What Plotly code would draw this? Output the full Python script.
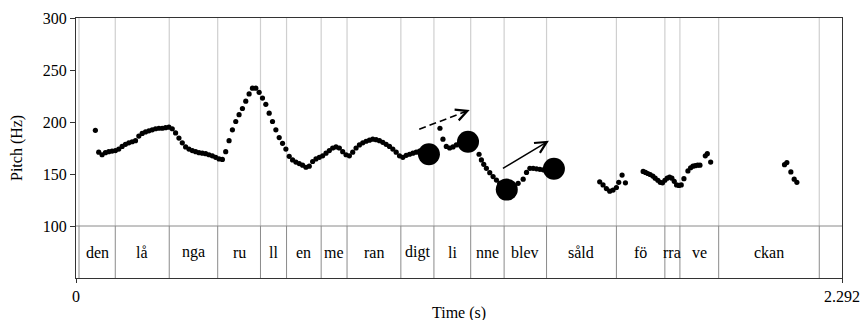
import plotly.graph_objects as go

# ---------------- data ----------------
# pitch track (time in s, F0 in Hz)
pitch_t = [0.058,
           0.068, 0.078, 0.088, 0.098, 0.108, 0.118, 0.128, 0.138, 0.148, 0.158,
           0.168, 0.178, 0.188, 0.198, 0.208, 0.218, 0.228, 0.238, 0.248, 0.258,
           0.268, 0.278, 0.288, 0.298, 0.308, 0.318, 0.328, 0.338, 0.348, 0.358,
           0.368, 0.378, 0.388, 0.398, 0.408, 0.418, 0.428, 0.438,
           0.448, 0.458, 0.468, 0.478, 0.488, 0.498, 0.508, 0.518, 0.528, 0.538,
           0.548, 0.558, 0.568, 0.578, 0.588, 0.598, 0.608, 0.618, 0.628, 0.638,
           0.648, 0.658, 0.668, 0.678, 0.688, 0.698, 0.708, 0.718, 0.728, 0.738,
           0.748, 0.758, 0.768, 0.778, 0.788, 0.798, 0.808, 0.818, 0.828, 0.838,
           0.848, 0.858, 0.868, 0.878, 0.888, 0.898, 0.908, 0.918, 0.928, 0.938,
           0.948, 0.958, 0.968, 0.978, 0.988, 0.998, 1.008, 1.018, 1.028, 1.038,
           1.048, 1.058,
           1.089, 1.098, 1.108, 1.118, 1.128, 1.138, 1.148, 1.158, 1.168, 1.178,
           1.206, 1.213, 1.220, 1.228, 1.238, 1.248, 1.258, 1.268, 1.278, 1.288,
           1.298, 1.308, 1.323, 1.338, 1.348, 1.358, 1.368, 1.378, 1.388, 1.398,
           1.408, 1.418, 1.428,
           1.567, 1.577, 1.587, 1.597, 1.607, 1.617, 1.624, 1.634, 1.644,
           1.697, 1.704, 1.711, 1.718, 1.726, 1.733, 1.741, 1.748, 1.755, 1.762,
           1.769, 1.776, 1.783, 1.790, 1.797, 1.804, 1.811, 1.819, 1.831, 1.839,
           1.846, 1.853, 1.860, 1.867, 1.883, 1.889, 1.899,
           2.120, 2.127, 2.139, 2.149, 2.157]
pitch_hz = [192,
            171, 168.5, 170.5, 171.5, 172, 172.5, 174, 176.5, 178.5, 180,
            181, 182, 186.5, 189, 190.5, 191.5, 192.5, 193.5, 194, 194,
            194.5, 195, 193.5, 189.5, 184.5, 180, 176, 174, 172.5, 171.5,
            170.5, 170, 169.5, 168.5, 167.5, 166, 164.5, 164,
            171.5, 182, 192.5, 200.5, 207, 213, 220, 227, 232.5, 232.5,
            228.5, 223, 217, 208.5, 200.5, 192.5, 185, 179.5, 174, 167,
            163.5, 161.5, 160, 158.5, 156.5, 157.5, 162, 164.5, 166, 167.5,
            170, 172.5, 175, 176, 175, 171.5, 168.5, 167.5, 171, 175,
            178, 180, 181.5, 182.5, 183.5, 183, 182, 180.5, 178.5, 176.5,
            174, 171, 167.5, 166, 168, 169, 170, 171, 172, 172.5,
            171, 169,
            194, 183.5, 176.5, 175, 176, 178, 179.5, 180.5, 181, 180,
            169, 163.5, 159.3, 155.5, 151.3, 147.5, 144.2, 141, 138, 135,
            137, 139, 141, 145, 151.5, 155.5, 155.5, 155, 154.5, 154,
            154, 154.5, 155,
            142.5, 139.5, 136, 133.5, 134.5, 137, 142, 149, 141.5,
            152.5, 151.5, 150.5, 149.5, 148, 146, 144, 142, 141.5, 144,
            146, 147, 146, 143, 139.5, 139, 139.5, 145.5, 153, 156,
            157.5, 158, 158.5, 158.5, 167.5, 169.5, 161.5,
            159, 161, 152, 145, 142]

# highlighted targets (large circles)
target_t = [1.056, 1.173, 1.289, 1.430]
target_hz = [169, 181, 135, 155]

# arrows: (tail_t, tail_hz, head_t, head_hz)
dashed_arrow = [1.027, 193, 1.178, 211.5]
solid_arrow = [1.273, 154.5, 1.415, 182]

# syllable tier
boundaries = [0.009, 0.1175, 0.279, 0.424, 0.552, 0.630, 0.7336, 0.811, 0.972,
              1.071, 1.181, 1.281, 1.408, 1.617, 1.762, 1.807, 1.923, 2.224]
syllables = ["den", "lå", "nga", "ru", "ll", "en", "me", "ran", "digt", "li",
             "nne", "blev", "såld", "fö", "rra", "ve", "ckan"]

x_max = 2.292
y_ticks = [100, 150, 200, 250, 300]
tier_bottom, tier_top, y_top = 50, 100, 300

FONT = "Liberation Serif, Times New Roman, serif"

# ---------------- figure ----------------
fig = go.Figure()

shapes = []
for b in boundaries:
    shapes.append(dict(type="line", xref="x", yref="y", x0=b, x1=b, y0=tier_top, y1=y_top,
                       line=dict(color="#cfcfcf", width=1.2), layer="below"))
    shapes.append(dict(type="line", xref="x", yref="y", x0=b, x1=b, y0=tier_bottom, y1=tier_top,
                       line=dict(color="#8a8a8a", width=1), layer="below"))
shapes.append(dict(type="line", xref="x", yref="y", x0=0, x1=x_max, y0=tier_top, y1=tier_top,
                   line=dict(color="#8a8a8a", width=1), layer="below"))

fig.add_trace(go.Scatter(x=pitch_t, y=pitch_hz, mode="markers",
                         marker=dict(color="black", size=5.2), showlegend=False))
fig.add_trace(go.Scatter(x=target_t, y=target_hz, mode="markers",
                         marker=dict(color="black", size=22), showlegend=False))

# dashed arrow shaft
fig.add_trace(go.Scatter(x=[dashed_arrow[0], dashed_arrow[2]], y=[dashed_arrow[1], dashed_arrow[3]],
                         mode="lines", line=dict(color="black", width=1.6, dash="7px,4px"),
                         showlegend=False))

annotations = []
def frac_point(a, f):
    return a[2] - f * (a[2] - a[0]), a[3] - f * (a[3] - a[1])

dt, dh = frac_point(dashed_arrow, 0.15)
annotations.append(dict(x=dashed_arrow[2], y=dashed_arrow[3], ax=dt, ay=dh, xref="x", yref="y",
                        axref="x", ayref="y", showarrow=True, arrowhead=5, arrowwidth=1.5,
                        arrowsize=1.5, arrowcolor="black", text=""))
annotations.append(dict(x=solid_arrow[2], y=solid_arrow[3], ax=solid_arrow[0], ay=solid_arrow[1],
                        xref="x", yref="y", axref="x", ayref="y", showarrow=True, arrowhead=5,
                        arrowwidth=1.5, arrowsize=1.5, arrowcolor="black", text=""))

# tier labels
for i, s in enumerate(syllables):
    annotations.append(dict(x=(boundaries[i] + boundaries[i + 1]) / 2, y=(tier_bottom + tier_top) / 2,
                            xref="x", yref="y", text=s, showarrow=False,
                            font=dict(family=FONT, size=16, color="black")))

# axis titles
annotations.append(dict(x=0.5, y=0, xref="paper", yref="paper", text="Time (s)", showarrow=False,
                        xanchor="center", yanchor="middle", yshift=-35,
                        font=dict(family=FONT, size=16, color="black")))
annotations.append(dict(x=0, y=0.5, xref="paper", yref="paper", text="Pitch (Hz)", showarrow=False,
                        xanchor="center", yanchor="middle", xshift=-59, textangle=-90,
                        font=dict(family=FONT, size=16, color="black")))

fig.update_layout(
    width=862, height=320,
    margin=dict(l=76, r=20, t=18, b=42, autoexpand=False),
    paper_bgcolor="white", plot_bgcolor="white",
    font=dict(family=FONT, size=16, color="black"),
    shapes=shapes, annotations=annotations,
    xaxis=dict(range=[0, x_max], tickvals=[0, x_max], ticktext=["0", "2.292"],
               showgrid=False, zeroline=False, showline=True, mirror=True, automargin=False,
               linecolor="#333333", linewidth=1.3, ticks="outside", ticklen=4,
               tickcolor="#333333", tickfont=dict(family=FONT, size=16, color="black")),
    yaxis=dict(range=[tier_bottom, y_top], tickvals=y_ticks, automargin=False,
               showgrid=False, zeroline=False, showline=True, mirror=True,
               linecolor="#333333", linewidth=1.3, ticks="outside", ticklen=5,
               tickcolor="#333333", tickfont=dict(family=FONT, size=16, color="black")),
)

fig.write_html("out.html")
